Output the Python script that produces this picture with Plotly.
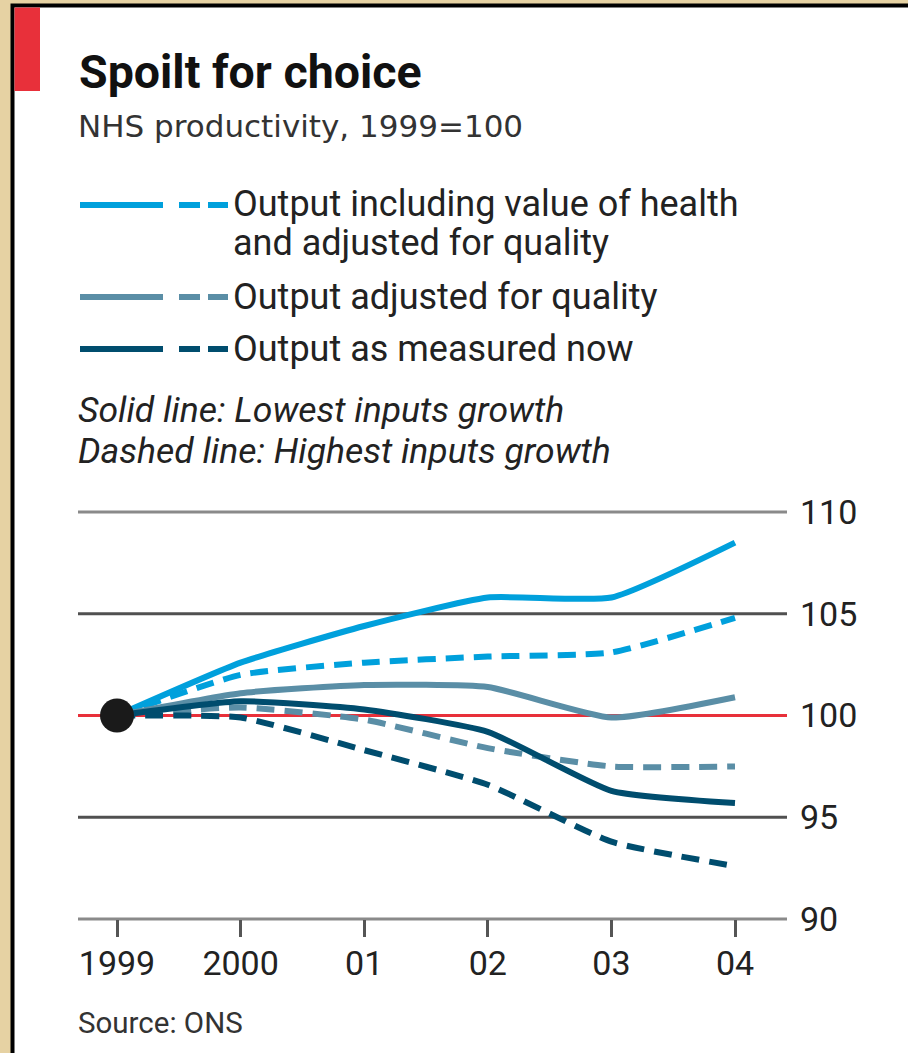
import plotly.graph_objects as go

W, H = 908, 1053

# ---------------- data ----------------
years = [1999, 2000, 2001, 2002, 2003, 2004]
tick_labels = ["1999", "2000", "01", "02", "03", "04"]

health_low = [100, 102.6, 104.4, 105.8, 105.8, 108.5]
health_high = [100, 102.0, 102.6, 102.9, 103.1, 104.8]
quality_low = [100, 101.1, 101.5, 101.4, 99.9, 100.9]
quality_high = [100, 100.4, 99.8, 98.4, 97.5, 97.5]
now_low = [100, 100.7, 100.3, 99.2, 96.3, 95.7]
now_high = [100, 99.9, 98.3, 96.6, 93.8, 92.6]

y_ticks = [90, 95, 100, 105, 110]

legend_labels = [
    ["Output including value of health", "and adjusted for quality"],
    ["Output adjusted for quality"],
    ["Output as measured now"],
]
notes = ["Solid line: Lowest inputs growth", "Dashed line: Highest inputs growth"]

C_LIGHT = "#00A0DC"
C_MID = "#5A8EA6"
C_DARK = "#004D6E"
C_RED = "#E8303A"
FONT = "Roboto"
TXT = "#222222"


def px(x):
    return x / W


def py(y):
    return 1 - y / H


fig = go.Figure()

series = [
    (health_low, C_LIGHT, "solid"),
    (health_high, C_LIGHT, "18px,10px"),
    (quality_low, C_MID, "solid"),
    (quality_high, C_MID, "18px,10px"),
    (now_low, C_DARK, "solid"),
    (now_high, C_DARK, "18px,10px"),
]
for vals, col, dash in series:
    fig.add_trace(go.Scatter(
        x=years, y=vals, mode="lines",
        line=dict(color=col, width=6, dash=dash, shape="spline", smoothing=0.5),
        hoverinfo="skip", showlegend=False,
    ))

fig.add_trace(go.Scatter(
    x=[years[0]], y=[100], mode="markers",
    marker=dict(color="#1a1a1a", size=34), showlegend=False, hoverinfo="skip",
))

shapes = []
# background frame
shapes.append(dict(type="rect", xref="paper", yref="paper",
                   x0=px(12.5), x1=px(960), y0=py(1100), y1=py(5.5),
                   fillcolor="white", line=dict(color="black", width=4), layer="below"))
# red tab
shapes.append(dict(type="rect", xref="paper", yref="paper",
                   x0=px(14.5), x1=px(40), y0=py(91), y1=py(7.5),
                   fillcolor=C_RED, line=dict(width=0), layer="below"))

# horizontal grid lines
grid_col = {90: "#8a8a8a", 95: "#505050", 100: C_RED, 105: "#505050", 110: "#8a8a8a"}
for v in y_ticks:
    shapes.append(dict(type="line", xref="paper", yref="y",
                       x0=px(78), x1=px(787), y0=v, y1=v,
                       line=dict(color=grid_col[v], width=3), layer="below"))

# legend swatches
for yy, col in [(205, C_LIGHT), (297, C_MID), (349, C_DARK)]:
    for x0, x1 in [(80, 163), (179, 200), (208, 228)]:
        shapes.append(dict(type="line", xref="paper", yref="paper",
                           x0=px(x0), x1=px(x1), y0=py(yy), y1=py(yy),
                           line=dict(color=col, width=6)))

annotations = []


def text(s, x, y, size, bold=False, italic=False, color=TXT, family=FONT):
    if bold:
        s = "<b>" + s + "</b>"
    if italic:
        s = "<i>" + s + "</i>"
    annotations.append(dict(text=s, xref="paper", yref="paper", x=px(x), y=py(y),
                            xanchor="left", yanchor="middle", showarrow=False,
                            align="left",
                            font=dict(family=family, size=size, color=color)))


text("Spoilt for choice", 77, 72, 46.5, bold=True, color="#111111")
text("NHS productivity, 1999=100", 76, 126, 31, color="#333333", family="DejaVu Sans")
text(legend_labels[0][0], 231, 204, 36)
text(legend_labels[0][1], 231, 243, 36)
text(legend_labels[1][0], 231, 297, 36)
text(legend_labels[2][0], 231, 349, 36)
text(notes[0], 76, 410, 35.5, italic=True)
text(notes[1], 76, 451, 35.5, italic=True)
text("Source: ONS", 76, 1023, 29.5, color="#333333")

fig.update_layout(
    width=W, height=H,
    margin=dict(l=0, r=0, t=0, b=0, autoexpand=False),
    paper_bgcolor="#E6D2A3",
    plot_bgcolor="rgba(0,0,0,0)",
    showlegend=False,
    shapes=shapes,
    annotations=annotations,
    xaxis=dict(
        domain=[px(80), px(787)],
        range=[1998.7006, 2004.4207],
        tickvals=years, ticktext=tick_labels,
        ticks="outside", ticklen=17, tickwidth=3, tickcolor="#555555",
        showgrid=False, zeroline=False, showline=False,
        tickfont=dict(family=FONT, size=34, color=TXT),
        anchor="free", position=py(919),
        ticklabelstandoff=-3,
        automargin=False,
        fixedrange=True,
    ),
    yaxis=dict(
        domain=[py(929.2), py(501.9)],
        range=[89.5, 110.5],
        side="right",
        tickvals=y_ticks,
        showgrid=False, zeroline=False, showline=False, ticks="",
        tickfont=dict(family=FONT, size=34, color=TXT),
        ticklabelstandoff=12,
        anchor="x",
        automargin=False,
        fixedrange=True,
    ),
)

fig.write_html(
    "out.html",
    config={"displayModeBar": False},
    post_script="document.body.style.margin='0';document.body.style.overflow='hidden';",
)
